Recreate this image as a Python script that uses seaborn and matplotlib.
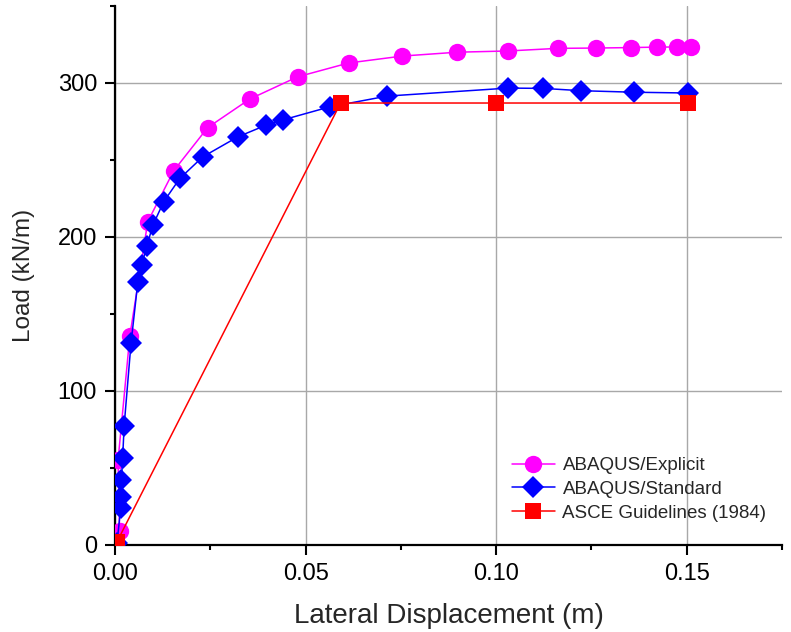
import matplotlib
matplotlib.use("Agg")
import matplotlib.pyplot as plt
import seaborn as sns
import pandas as pd
from matplotlib.ticker import MultipleLocator

# --- data ---
exp_x = [0.0003, 0.0012, 0.0008, 0.0039, 0.0086, 0.0154, 0.0243, 0.0353, 0.0479,
         0.0613, 0.0754, 0.0898, 0.1031, 0.1162, 0.1262, 0.1353, 0.1422, 0.1475, 0.1510]
exp_y = [0, 9, 55, 136, 210, 243, 271, 289.5, 304,
         313, 317.5, 320, 320.8, 322.5, 322.7, 323, 323.3, 323.4, 323.4]

std_x = [0.0005, 0.0015, 0.0016, 0.0017, 0.0020, 0.0024, 0.0042, 0.0060, 0.0070,
         0.0083, 0.0100, 0.0128, 0.0170, 0.0230, 0.0322, 0.0395, 0.0440, 0.0563,
         0.0714, 0.1032, 0.1123, 0.1223, 0.1363, 0.1503]
std_y = [1, 24, 31, 42, 56.5, 77.5, 131, 171, 181.5,
         194, 208, 223, 238, 252, 265, 272.5, 276, 284.5,
         291.5, 296.7, 296.5, 295, 294, 293.5]

asce_x = [0.0005, 0.0592, 0.1000, 0.1503]
asce_y = [2, 287, 287, 287]

labels = ["ABAQUS/Explicit", "ABAQUS/Standard", "ASCE Guidelines (1984)"]
x_ticks = [0.00, 0.05, 0.10, 0.15]
y_ticks = [0, 100, 200, 300]

sns.set_style("white")
plt.rcParams['font.family'] = ['Liberation Sans', 'DejaVu Sans']

fig = plt.figure(figsize=(7.91, 6.32), dpi=100)
ax = fig.add_axes([0.1454, 0.1377, 0.8432, 0.8528])

df_e = pd.DataFrame({"x": exp_x, "y": exp_y})
df_s = pd.DataFrame({"x": std_x, "y": std_y})
df_a = pd.DataFrame({"x": asce_x, "y": asce_y})

sns.lineplot(data=df_e, x="x", y="y", ax=ax, sort=False, estimator=None,
             color="#ff00ff", marker="o", markersize=12.5, markeredgewidth=0,
             linewidth=1.1, label=labels[0], zorder=3)
sns.lineplot(data=df_s, x="x", y="y", ax=ax, sort=False, estimator=None,
             color="#0000ff", marker="D", markersize=11, markeredgewidth=0,
             linewidth=1.1, label=labels[1], zorder=4)
sns.lineplot(data=df_a, x="x", y="y", ax=ax, sort=False, estimator=None,
             color="#ff0000", marker="s", markersize=11.5, markeredgewidth=0,
             linewidth=1.1, label=labels[2], zorder=5)

ax.set_xlim(0, 0.175)
ax.set_ylim(0, 350)
ax.set_xticks(x_ticks)
ax.set_xticklabels([f"{v:.2f}" for v in x_ticks])
ax.set_yticks(y_ticks)
ax.xaxis.set_minor_locator(MultipleLocator(0.025))
ax.yaxis.set_minor_locator(MultipleLocator(50))

ax.grid(True, which="major", color="#a8a8a8", linewidth=1.0)
ax.set_axisbelow(True)

for s in ["top", "right"]:
    ax.spines[s].set_visible(False)
for s in ["left", "bottom"]:
    ax.spines[s].set_color("black")
    ax.spines[s].set_linewidth(1.6)

ax.tick_params(axis="both", which="major", direction="out", length=7, width=1.5,
               labelsize=17, color="black", labelcolor="black", pad=6,
               bottom=True, left=True)
ax.tick_params(axis="both", which="minor", direction="out", length=3.5, width=1.5,
               color="black", bottom=True, left=True)

ax.set_xlabel("Lateral Displacement (m)", fontsize=20, labelpad=13)
ax.set_ylabel("Load (kN/m)", fontsize=17.5, labelpad=16)

leg = ax.legend(loc="upper left", bbox_to_anchor=(0.595, 0.163), frameon=False,
                fontsize=13.5, borderpad=0, borderaxespad=0, handlelength=2.3,
                handletextpad=0.4, labelspacing=0.35)

fig.savefig("out.png", dpi=100)
